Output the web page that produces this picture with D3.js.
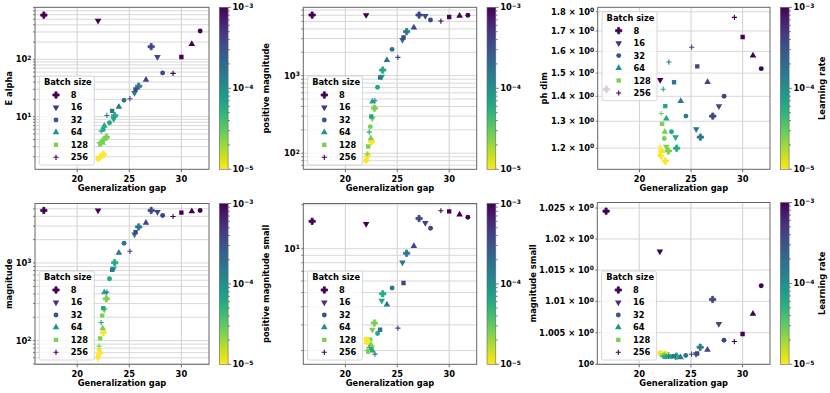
<!DOCTYPE html>
<html><head><meta charset="utf-8">
<script src="https://cdn.jsdelivr.net/npm/d3@7"></script>
<style>
body{margin:0;background:#fff}
text{font-family:"DejaVu Sans",sans-serif;font-weight:bold;fill:#000}
</style>
</head><body>
<svg id="c" width="830" height="393"></svg>
<script>
// ---------------- data ----------------
const batchSizes = [8, 16, 32, 64, 128, 256];
const learningRates = [1e-3, 3.98e-4, 1.58e-4, 6.31e-5, 2.51e-5, 1e-5];
// runs: batch-major, learning rate descending (6 x 6)
const gap = [
  16.8, 27.1, 25.9, 23.6, 22.8, 22.5,
  22.0, 27.7, 25.5, 23.5, 22.6, 22.1,
  31.8, 28.2, 24.5, 23.1, 22.4, 22.0,
  31.0, 26.6, 24.0, 22.6, 22.45, 22.2,
  30.0, 25.6, 23.35, 22.5, 22.2, 22.05,
  29.2, 25.06, 22.85, 22.3, 22.1, 22.0];
const eAlpha = [
  590, 166, 34, 10.4, 4.4, 2.2,
  470, 110, 26, 9.1, 4.0, 1.9,
  312, 58, 19.3, 7.85, 3.7, 1.85,
  185, 43.7, 14.9, 6.9, 3.5, 2.0,
  110, 30, 12.6, 6.0, 3.3, 1.9,
  57, 20.6, 10.5, 5.6, 3.5, 1.8];
const positiveMagnitude = [
  6040, 6040, 3690, 1180, 380, 140,
  6040, 5900, 2880, 970, 280, 90,
  6000, 5210, 2180, 707, 220, 80,
  5900, 4150, 1590, 462, 156, 95,
  5700, 3100, 942, 297, 122, 85,
  5050, 1720, 475, 187, 98, 78];
const phDim = [
  1.43, 1.32, 1.24, 1.20, 1.19, 1.155,
  1.47, 1.36, 1.27, 1.24, 1.205, 1.17,
  1.52, 1.40, 1.32, 1.26, 1.235, 1.175,
  1.58, 1.46, 1.38, 1.31, 1.26, 1.19,
  1.67, 1.53, 1.46, 1.36, 1.29, 1.19,
  1.77, 1.62, 1.55, 1.43, 1.33, 1.205];
const magnitude = [
  4760, 4760, 2920, 1010, 346, 127,
  4760, 4560, 2330, 845, 250, 75,
  4760, 4090, 1800, 627, 210, 62,
  4650, 3290, 1350, 420, 144, 70,
  4470, 2500, 820, 262, 107, 65,
  3980, 1415, 422, 171, 85, 58];
const positiveMagnitudeSmall = [
  15.4, 16.1, 9.3, 4.9, 3.09, 2.14,
  14.8, 15.0, 8.06, 4.4, 2.78, 2.3,
  16.4, 13.8, 5.37, 2.62, 2.37, 2.4,
  17.1, 10.4, 4.13, 2.0, 2.2, 2.35,
  18.0, 5.81, 2.78, 2.05, 1.97, 2.3,
  18.2, 2.85, 1.89, 2.1, 2.0, 2.25];
const magnitudeSmall = [
  1.0245, 1.0103, 1.0027, 1.0013, 1.0014, 1.0016,
  1.0180, 1.0064, 1.0016, 1.0012, 1.0013, 1.0017,
  1.0125, 1.0038, 1.0014, 1.0012, 1.0014, 1.0018,
  1.0080, 1.0023, 1.0011, 1.0012, 1.0014, 1.0017,
  1.0048, 1.0017, 1.0013, 1.0012, 1.0015, 1.0018,
  1.0036, 1.0016, 1.0013, 1.0013, 1.0015, 1.0018];
const xTicks = [20, 25, 30];
const lrTicks = [1e-3, 1e-4, 1e-5];

// ---------------- layout ----------------
const svg = d3.select('#c');
const defs = svg.append('defs');
const grad = defs.append('linearGradient').attr('id', 'vir')
  .attr('x1', 0).attr('y1', 1).attr('x2', 0).attr('y2', 0);
d3.range(0, 1.0001, 0.05).forEach(o => grad.append('stop')
  .attr('offset', o).attr('stop-color', d3.interpolateViridis(1 - o)));

const color = lr => d3.interpolateViridis(1 - (Math.log10(lr) + 5) / 2);
const runs = [];
batchSizes.forEach((b, i) => learningRates.forEach((lr, j) => runs.push({b, lr, k: i * 6 + j})));

function sup(t, base, exp, pre) {
  if (pre) t.append('tspan').text(pre);
  t.append('tspan').text(base);
  t.append('tspan').attr('dy', '-0.45em').attr('font-size', '0.72em').text(exp);
}
const minorLog = (lo, hi) => {
  const out = [];
  for (let e = Math.floor(Math.log10(lo)); e <= Math.ceil(Math.log10(hi)); e++)
    for (let m = 1; m < 10; m++) { const v = m * Math.pow(10, e); if (v >= lo && v <= hi) out.push(v); }
  return out;
};

const panels = [
  {vals: eAlpha, label: 'E alpha', x0: 35, x1: 209, y0: 7.3, y1: 169.3, dom: [1.21, 807], leg: 'low', ylx: 9,
   ticks: [[10, '1'], [100, '2']], cbLabel: null},
  {vals: positiveMagnitude, label: 'positive magnitude', x0: 303.3, x1: 476.7, y0: 7.3, y1: 169.3, dom: [62, 7600], leg: 'low', ylx: 266,
   ticks: [[100, '2'], [1000, '3']], cbLabel: null},
  {vals: phDim, label: 'ph dim', x0: 597.7, x1: 770, y0: 7.3, y1: 169.3, dom: [1.127, 1.824], leg: 'up', ylx: 544,
   ticks: [1.2, 1.3, 1.4, 1.5, 1.6, 1.7, 1.8].map(v => [v, '0', v.toFixed(1) + ' \u00d7 ']), cbLabel: 'Learning rate', grid: [1.2,1.3,1.4,1.5,1.6,1.7,1.8]},
  {vals: magnitude, label: 'magnitude', x0: 35, x1: 209, y0: 203.5, y1: 364.3, dom: [49.5, 5850], leg: 'low', ylx: 9,
   ticks: [[100, '2'], [1000, '3']], cbLabel: null},
  {vals: positiveMagnitudeSmall, label: 'positive magnitude small', x0: 303.3, x1: 476.7, y0: 203.5, y1: 364.3, dom: [1.61, 20.4], leg: 'low', ylx: 266,
   ticks: [[10, '1']], cbLabel: null},
  {vals: magnitudeSmall, label: 'magnitude small', x0: 597.3, x1: 770, y0: 202.5, y1: 364.3, dom: [1.0, 1.0259], leg: 'low', ylx: 533,
   ticks: [[1.0, '0'], [1.005, '0', '1.005 \u00d7 '], [1.01, '0', '1.01 \u00d7 '], [1.015, '0', '1.015 \u00d7 '], [1.02, '0', '1.02 \u00d7 '], [1.025, '0', '1.025 \u00d7 ']],
   cbLabel: 'Learning rate', grid: [1.0, 1.005, 1.01, 1.015, 1.02, 1.025]}
];
const FS = 8.3;
const legendColors = ['#440154', '#46327e', '#3b528b', '#21918c', '#7ad151', '#440154'];

panels.forEach(p => {
  const g = svg.append('g');
  const x = d3.scaleLinear().domain([15.95, 32.65]).range([p.x0, p.x1]);
  const y = d3.scaleLog().domain(p.dom).range([p.y1, p.y0]);
  const gridVals = p.grid || minorLog(p.dom[0], p.dom[1]);
  // grid
  g.selectAll('.gy').data(gridVals).join('line')
    .attr('x1', p.x0).attr('x2', p.x1).attr('y1', d => y(d)).attr('y2', d => y(d))
    .attr('stroke', '#d4d4d4').attr('stroke-width', 0.9);
  g.selectAll('.gx').data(xTicks).join('line')
    .attr('x1', d => x(d)).attr('x2', d => x(d)).attr('y1', p.y0).attr('y2', p.y1)
    .attr('stroke', '#d4d4d4').attr('stroke-width', 1.1);
  // ticks
  g.selectAll('.ty').data(gridVals).join('line')
    .attr('x1', p.x0).attr('x2', p.x0 - 2).attr('y1', d => y(d)).attr('y2', d => y(d))
    .attr('stroke', '#444').attr('stroke-width', 0.7);
  g.selectAll('.tx').data(xTicks).join('line')
    .attr('x1', d => x(d)).attr('x2', d => x(d)).attr('y1', p.y1).attr('y2', p.y1 + 3)
    .attr('stroke', '#444').attr('stroke-width', 0.8);
  // tick labels
  xTicks.forEach(v => g.append('text').attr('x', x(v)).attr('y', p.y1 + 6)
    .attr('text-anchor', 'middle').attr('dominant-baseline', 'hanging').attr('font-size', FS).text(v));
  p.ticks.forEach(([v, e, pre]) => {
    const t = g.append('text').attr('x', p.x0 - 3.5).attr('y', y(v) + 3)
      .attr('text-anchor', 'end').attr('font-size', FS);
    sup(t, '10', e, pre);
  });
  // axis labels
  g.append('text').attr('x', (p.x0 + p.x1) / 2).attr('y', p.y1 + 19)
    .attr('text-anchor', 'middle').attr('dominant-baseline', 'central').attr('font-size', FS).text('Generalization gap');
  g.append('text').attr('transform', `translate(${p.ylx},${(p.y0 + p.y1) / 2}) rotate(-90)`)
    .attr('text-anchor', 'middle').attr('dominant-baseline', 'central').attr('font-size', FS).text(p.label);
  // points
  const clipId = 'clip' + Math.round(p.x0) + '_' + Math.round(p.y0);
  defs.append('clipPath').attr('id', clipId).append('rect')
    .attr('x', p.x0).attr('y', p.y0).attr('width', p.x1 - p.x0).attr('height', p.y1 - p.y0);
  const pts = g.append('g').attr('clip-path', `url(#${clipId})`);
  runs.forEach(r => drawMarker(pts, r.b, x(gap[r.k]), y(p.vals[r.k]), color(r.lr)));
  // spines
  g.append('rect').attr('x', p.x0).attr('y', p.y0).attr('width', p.x1 - p.x0).attr('height', p.y1 - p.y0)
    .attr('fill', 'none').attr('stroke', '#666').attr('stroke-width', 1);
  // legend
  const lw = 55, lh = 89;
  const lx = p.x0 + 4.3, ly = p.leg === 'up' ? p.y0 + 4.4 : p.y1 - 4.3 - lh;
  const L = g.append('g');
  L.append('rect').attr('x', lx).attr('y', ly).attr('width', lw).attr('height', lh).attr('rx', 2)
    .attr('fill', '#fff').attr('fill-opacity', 0.8).attr('stroke', '#ccc').attr('stroke-width', 0.8);
  L.append('text').attr('x', lx + lw / 2 + 1).attr('y', ly + 6.2).attr('text-anchor', 'middle')
    .attr('dominant-baseline', 'central').attr('font-size', FS).text('Batch size');
  batchSizes.forEach((b, i) => {
    const yy = ly + 19 + i * 12.46;
    drawMarker(L, b, lx + 16.7, yy, legendColors[i]);
    L.append('text').attr('x', lx + 31.4).attr('y', yy).attr('dominant-baseline', 'central')
      .attr('font-size', FS).text(b);
  });
  // colorbar
  const cx0 = p.x1 + 10.3, cw = 8.8;
  const cy = d3.scaleLog().domain([1e-5, 1e-3]).range([p.y1, p.y0]);
  g.append('rect').attr('x', cx0).attr('y', p.y0).attr('width', cw).attr('height', p.y1 - p.y0)
    .attr('fill', 'url(#vir)').attr('stroke', '#666').attr('stroke-width', 0.6);
  g.selectAll('.cm').data(minorLog(1e-5, 1e-3)).join('line')
    .attr('x1', cx0 + cw).attr('x2', d => cx0 + cw + (lrTicks.includes(d) ? 3 : 1.8))
    .attr('y1', d => cy(d)).attr('y2', d => cy(d)).attr('stroke', '#444').attr('stroke-width', 0.7);
  lrTicks.forEach(v => {
    const t = g.append('text').attr('x', cx0 + cw + 4.5).attr('y', cy(v) + 3).attr('font-size', FS);
    sup(t, '10', '\u2212' + Math.round(-Math.log10(v)));
  });
  if (p.cbLabel) g.append('text').attr('transform', `translate(821.7,${(p.y0 + p.y1) / 2}) rotate(-90)`)
    .attr('text-anchor', 'middle').attr('dominant-baseline', 'central').attr('font-size', FS).text(p.cbLabel);
});

function drawMarker(sel, b, cx, cy, col) {
  if (b === 256) {
    sel.append('path').attr('d', `M${cx - 2.6},${cy}H${cx + 2.6}M${cx},${cy - 2.6}V${cy + 2.6}`)
      .attr('stroke', col).attr('stroke-width', 1.1).attr('fill', 'none');
    return;
  }
  const map = {8: [d3.symbolCross, 22, 0], 16: [d3.symbolTriangle, 19, 180], 32: [d3.symbolCircle, 19, 0],
    64: [d3.symbolTriangle, 19, 0], 128: [d3.symbolSquare, 19, 0]};
  const [sym, size, rot] = map[b];
  const path = sel.append('path').attr('d', d3.symbol(sym, size)())
    .attr('transform', `translate(${cx},${cy}) rotate(${rot})`).attr('fill', col);
  if (b === 8) path.attr('stroke', col).attr('stroke-width', 0.8).attr('stroke-linejoin', 'round');
}
</script>
</body></html>
